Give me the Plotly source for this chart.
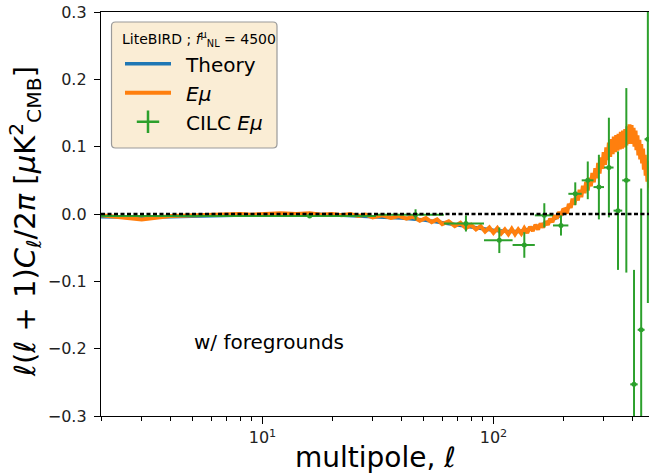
import plotly.graph_objects as go

# ---------------- data ----------------
# Theory (smooth)
ell_theory = [2, 3, 4, 5, 6, 8, 10, 15, 20, 30, 40, 50, 60, 70, 80, 90, 100, 115, 130,
              145, 160, 175, 190, 200, 215, 230, 245, 260, 275, 290, 305, 320, 335, 350,
              365, 380, 395, 410, 425, 440, 455, 470, 485, 500]
theory = [-0.004, -0.005, -0.004, -0.003, -0.002, -0.001, -0.001, 0.000, -0.001, -0.004,
          -0.006, -0.009, -0.013, -0.016, -0.019, -0.022, -0.024, -0.026, -0.026, -0.022,
          -0.017, -0.011, -0.004, 0.000, 0.013, 0.025, 0.035, 0.046, 0.058, 0.072, 0.085,
          0.097, 0.104, 0.108, 0.112, 0.116, 0.118, 0.112, 0.100, 0.088, 0.072, 0.056,
          0.040, 0.030]

# E-mu (noisy simulation)
ell_emu = [2, 3, 4, 5, 6, 7, 8, 9, 10, 12, 14, 16, 18, 20, 22, 24, 26, 28, 30,
           33, 36, 39, 42, 45, 48, 51, 54, 57, 60,
           64, 68, 72, 76, 80, 84, 88, 92, 96, 100, 104, 108, 112, 116, 120, 124, 128,
           132, 136, 140, 144, 148, 152, 156, 160, 164, 168, 172, 176, 180, 184, 188,
           192, 196, 200,
           204, 208, 212, 216, 220, 224, 228, 232, 236, 240, 244, 248, 252, 256, 260,
           264, 268, 272, 276, 280, 284, 288, 292, 296, 300, 304, 308, 312, 316, 320,
           324, 328, 332, 336, 340, 344, 348, 352, 356, 360, 364, 368, 372, 376, 380,
           384, 388, 392, 396, 400, 404, 408, 412, 416, 420, 424, 428, 432, 436, 440,
           444, 448, 452, 456, 460, 464, 468, 472, 476, 480, 484, 488, 492, 496, 500]
emu = [-0.002, -0.008, -0.003, -0.002, -0.001, -0.001, 0.000, -0.001, 0.000, 0.001,
       0.000, 0.001, -0.001, 0.000, -0.002, 0.000, -0.003, -0.001, -0.005,
       -0.002, -0.006, -0.003, -0.007, -0.004, -0.010, -0.006, -0.012, -0.008, -0.015,
       -0.011, -0.018, -0.013, -0.021, -0.016, -0.023, -0.018, -0.026, -0.020, -0.028,
       -0.021, -0.029, -0.023, -0.030, -0.022, -0.030, -0.023, -0.029, -0.021, -0.028,
       -0.019, -0.025, -0.016, -0.023, -0.014, -0.020, -0.011, -0.016, -0.007, -0.012,
       -0.002, -0.007, 0.003, -0.002, 0.006,
       0.007, 0.001, 0.015, 0.009, 0.023, 0.014, 0.029, 0.020, 0.036, 0.025, 0.042,
       0.031, 0.048, 0.035, 0.054, 0.041, 0.061, 0.047, 0.068, 0.053, 0.076, 0.060,
       0.084, 0.067, 0.092, 0.073, 0.099, 0.080, 0.106, 0.085, 0.111, 0.089, 0.115,
       0.092, 0.117, 0.094, 0.119, 0.096, 0.122, 0.097, 0.124, 0.099, 0.126, 0.102,
       0.130, 0.104, 0.133, 0.105, 0.132, 0.104, 0.128, 0.100, 0.124, 0.095, 0.117,
       0.087, 0.110, 0.081, 0.104, 0.075, 0.097, 0.066, 0.088, 0.057, 0.079, 0.048,
       0.070, 0.039, 0.061, 0.030, 0.052, 0.025, 0.046, 0.019, 0.039]

# CILC E-mu band powers
ell_cilc = [16, 46, 76, 106, 136, 166, 196, 226, 256, 286, 316, 346, 376, 406, 436, 466, 496]
cilc = [-0.003, -0.001, -0.014, -0.039, -0.046, -0.002, -0.017, 0.030, 0.050, 0.040,
        0.069, 0.005, 0.050, -0.253, -0.172, 0.111, 0.290]
cilc_err = [0.002, 0.008, 0.012, 0.019, 0.019, 0.018, 0.015, 0.017, 0.028, 0.048,
            0.074, 0.088, 0.137, 0.170, 0.210, 0.243, 0.300]
cilc_halfbin = [15, 15, 15, 15, 15, 15, 15, 15, 15, 15, 15, 15, 15, 15, 15, 15, 15]

x_major_vals = [10, 100]
x_major_text = ["10<sup>1</sup>", "10<sup>2</sup>"]
x_minor_vals = [2, 3, 4, 5, 6, 7, 8, 9, 20, 30, 40, 50, 60, 70, 80, 90, 200, 300, 400]
y_tick_vals = [-0.3, -0.2, -0.1, 0.0, 0.1, 0.2, 0.3]
y_tick_text = ["\u22120.3", "\u22120.2", "\u22120.1", "0.0", "0.1", "0.2", "0.3"]

BLUE, ORANGE, GREEN = "#1f77b4", "#ff7f0e", "#2ca02c"
FONT = "DejaVu Sans"
SP = "\u2002"

fig = go.Figure()
fig.add_trace(go.Scatter(x=ell_theory, y=theory, mode="lines", name=SP + "Theory",
                         line=dict(color=BLUE, width=3.5)))
fig.add_trace(go.Scatter(x=ell_emu, y=emu, mode="lines", name=SP + "<i>Eμ</i>",
                         line=dict(color=ORANGE, width=4)))
fig.add_trace(go.Scatter(x=ell_cilc, y=cilc, mode="markers", name="CILC <i>Eμ</i>",
                         showlegend=False,
                         marker=dict(color=GREEN, size=5),
                         error_x=dict(type="data", array=cilc_halfbin, color=GREEN,
                                      thickness=2, width=0),
                         error_y=dict(type="data", array=cilc_err, color=GREEN,
                                      thickness=2, width=0)))
# legend proxy for the error-bar series
fig.add_trace(go.Scatter(x=[None], y=[None], mode="markers", name=SP + "CILC <i>Eμ</i>",
                         marker=dict(color=GREEN, symbol="cross-thin", size=20,
                                     line=dict(color=GREEN, width=2.5))))

W, H = 649, 475
L, R, T, B = 101, 0, 12, 475 - 416
pw, ph = W - L - R, H - T - B

def px(x):
    return (x - L) / pw

def py(y):
    return (H - B - y) / ph

# rounded legend frame
x0, x1 = px(111.5), px(277)
y0, y1 = py(148), py(22)
rx, ry = 4 / pw, 4 / ph
path = (f"M{x0+rx},{y1} L{x1-rx},{y1} Q{x1},{y1} {x1},{y1-ry} "
        f"L{x1},{y0+ry} Q{x1},{y0} {x1-rx},{y0} L{x0+rx},{y0} "
        f"Q{x0},{y0} {x0},{y0+ry} L{x0},{y1-ry} Q{x0},{y1} {x0+rx},{y1} Z")

fig.update_layout(
    width=W, height=H,
    margin=dict(l=L, r=R, t=T, b=B, pad=0),
    paper_bgcolor="white", plot_bgcolor="white",
    font=dict(family=FONT, color="black"),
    showlegend=True,
    legend=dict(x=px(120), y=py(26), xanchor="left", yanchor="top",
                bgcolor="rgba(0,0,0,0)", borderwidth=0,
                font=dict(size=20, family=FONT, color="black"),
                title=dict(text="LiteBIRD ; <i>f</i><sup>μ</sup><sub>NL</sub> = 4500",
                           font=dict(size=14, family=FONT)),
                itemwidth=46, tracegroupgap=0),
    shapes=[
        dict(type="line", xref="paper", yref="y", x0=0, x1=1, y0=0, y1=0,
             line=dict(color="black", width=2.5, dash="4px,2.5px"), layer="above"),
        dict(type="path", xref="paper", yref="paper", path=path,
             fillcolor="rgba(245,222,179,0.55)", line=dict(color="#9a9a9a", width=1.2),
             layer="above"),
    ],
    annotations=[
        dict(text="w/ foregrounds", xref="paper", yref="paper", x=px(269), y=py(342),
             xanchor="center", yanchor="middle", showarrow=False,
             font=dict(size=20, family=FONT, color="black")),
        dict(text="multipole, <i>ℓ</i>", xref="paper", yref="paper", x=px(375), y=py(457),
             xanchor="center", yanchor="middle", showarrow=False,
             font=dict(size=28, family=FONT, color="black")),
        dict(text="<i>ℓ</i>(<i>ℓ</i> + 1)<i>C</i><sub><i>ℓ</i></sub>/2<i>π</i> "
                  "[<i>μ</i>K<sup>2</sup><sub>CMB</sub>]",
             xref="paper", yref="paper", x=px(25), y=py(222), textangle=-90,
             xanchor="center", yanchor="middle", showarrow=False,
             font=dict(size=29, family=FONT, color="black")),
    ],
)

fig.update_xaxes(type="log", range=[0.30103, 0.30103 + pw / 231.0],
                 tickmode="array", tickvals=x_major_vals, ticktext=x_major_text,
                 ticks="outside", ticklen=7, tickwidth=1, tickcolor="black",
                 tickfont=dict(size=16, family=FONT, color="#222"),
                 minor=dict(tickmode="array", tickvals=x_minor_vals, ticks="outside",
                            ticklen=4, tickwidth=1, tickcolor="black"),
                 showline=True, linecolor="black", linewidth=1.2, mirror=True,
                 showgrid=False, zeroline=False)
fig.update_yaxes(range=[-0.3, 0.3], tickmode="array", tickvals=y_tick_vals,
                 ticktext=y_tick_text, ticks="outside", ticklen=6, tickwidth=1,
                 tickcolor="black", tickfont=dict(size=16, family=FONT, color="#222"),
                 ticklabelstandoff=4,
                 showline=True, linecolor="black", linewidth=1.2, mirror=False,
                 showgrid=False, zeroline=False)

# remove the page's default 8px body margin so the 649x475 figure fills the window
fig.write_html("out.html",
               config={"displayModeBar": False, "staticPlot": True},
               post_script="document.body.style.margin='0';"
                           "document.body.style.overflow='hidden';")
